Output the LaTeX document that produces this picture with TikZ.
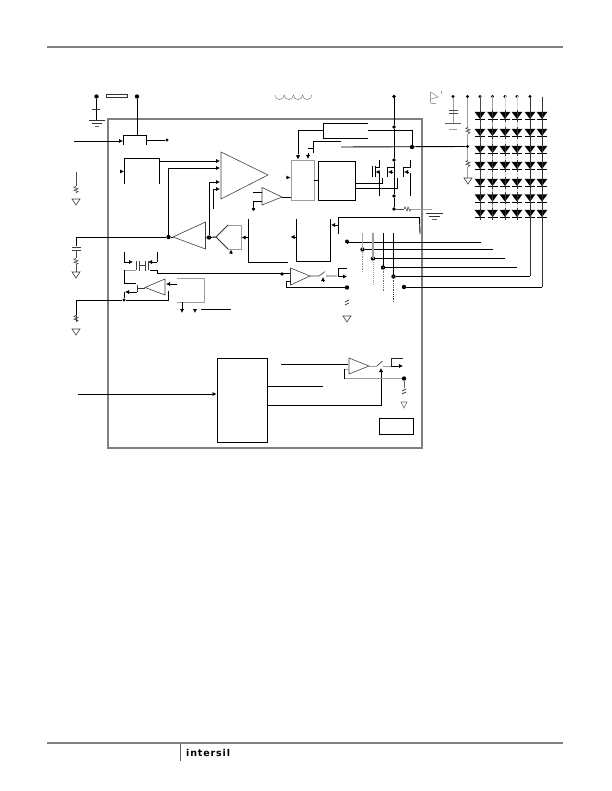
\documentclass[tikz,border=0pt]{standalone}
\usepackage{fontspec}
\setmainfont{DejaVu Sans}
\usetikzlibrary{arrows.meta}
\definecolor{framegray}{gray}{0.5}
\definecolor{softgray}{gray}{0.62}
\tikzset{
  wire/.style={line width=0.9pt,black},
  thin wire/.style={line width=0.5pt,black!70},
  soft/.style={line width=0.8pt,softgray},
  tip/.style={-{Latex[length=4pt,width=4.2pt]}},
  arr/.style={wire,tip},
  block/.style={draw=black,line width=0.9pt,inner sep=0pt,fill=none},
  amp/.style={line width=0.6pt,black!75},
  junction/.style={circle,fill=black,inner sep=0pt,minimum size=4.4pt},
  led/.style={fill=black,draw=none},
  colA/.style={line width=0.8pt,black!70},
  colB/.style={line width=0.8pt,softgray},
  colC/.style={line width=0.6pt,black!15}
}
\newcommand{\zigzag}[2]{\draw[line width=0.6pt,black!75] (#1,#2) -- ++(-2,1.6) -- ++(4,1.2) -- ++(-4,1.4) -- ++(4,1.2) -- ++(-2,1.4);}
\newcommand{\gndtri}[2]{\draw[line width=0.6pt,black!75] (#1-4,#2) -- (#1+4,#2) -- (#1,#2+6) -- cycle;}
\newcommand{\gndbars}[3]{\draw[line width=0.8pt,black!80] (#1-#3,#2) -- (#1+#3,#2) (#1-#3+3,#2+3) -- (#1+#3-3,#2+3);\draw[line width=0.7pt,black!60] (#1-#3+6,#2+6) -- (#1+#3-6,#2+6);}
\begin{document}
\begin{tikzpicture}[x=1pt,y=-1pt]
\useasboundingbox (0,0) rectangle (611,791);
\fill[white] (0,0) rectangle (611,791);
% page rules
\coordinate (hl) at (47,47); \coordinate (hr) at (563,47);
\coordinate (fl) at (47,743); \coordinate (fr) at (563,743);
\draw[line width=1.3pt,black!50] (hl) -- (hr);
\draw[line width=1.3pt,black!50] (fl) -- (fr);
\coordinate (ft) at (180,743); \coordinate (fb) at (180,761);
\draw[line width=0.6pt,black!60] (ft) -- (fb);
\node[anchor=west,inner sep=0pt,font=\bfseries\fontsize{9.5}{10}\selectfont\addfontfeature{LetterSpace=9}] (logo) at (186,753) {intersil};
% frame
\node[draw=framegray,line width=2.6pt,inner sep=0pt,minimum width=314pt,minimum height=329pt] (frame) at (265,283.5) {};

% top left
\node[junction] (vin) at (96.5,96.5) {};
\node[junction] (vb) at (137,96.5) {};
\draw[line width=0.8pt,black!80] (106,94) rectangle (127,97);
\coordinate (capa) at (96.5,109);
\draw[wire] (vin) -- (capa);
\draw[line width=0.8pt,black!75] (92,109.5) -- (100,109.5);
\gndbars{96.5}{120.5}{8}
\draw[wire] (96.5,110) -- (96.5,120);
% pass device
\coordinate (pt) at (137,135);
\draw[wire] (vb) -- (pt);
\draw[wire] (123.5,145) -- (123.5,135) -- (146.5,135) -- (146.5,145);
\coordinate (enin) at (74,141);
\coordinate (engate) at (123,141);
\draw[arr] (enin) -- (engate);
\node[junction,minimum size=3.4pt] (ldo) at (167,140) {};
\draw[wire] (146.5,140) -- (ldo);
% left resistor
\draw[thin wire] (76,172) -- (76,186);
\zigzag{76}{186}
\gndtri{76}{199}
% ref box
\draw[wire] (124.5,184) -- (124.5,158.5) -- (159.5,158.5) -- (159.5,184);
\draw[wire,tip] (120.5,171.5) -- (124,171.5);
% error amp
\coordinate (ea1) at (220,161); \coordinate (ea2) at (220,168);
\coordinate (ea3) at (220,182); \coordinate (ea4) at (220,189);
\draw[amp] (221,152) -- (221,199) -- (268,175) -- cycle;
\draw[arr] (159.5,161) -- (ea1);
\node[junction] (fbn) at (168.5,237) {};
\draw[arr] (fbn) -- (168.5,168) -- (ea2);
\node[junction] (vcn) at (209,237.5) {};
\draw[arr] (vcn) -- (209,182) -- (ea3);
\draw[wire] (213,209) -- (213,189);
\draw[arr] (213,189) -- (ea4);
% buffer triangle + left cap
\draw[amp] (173,237) -- (205.5,222) -- (205.5,249) -- cycle;
\coordinate (capc) at (76,246);
\draw[wire] (capc) -- (76,237) -- (fbn);
\draw[wire] (fbn) -- (173,237);
\draw[wire] (205.5,237.3) -- (vcn);
\draw[line width=0.8pt,black!75] (72,247) -- (81,247) (72,250) -- (81,250);
\draw[line width=0.6pt,black!70] (76,250) -- (76,258) (76,264.5) -- (76,272);
\zigzag{76}{258}
\gndtri{76}{272}
% selector
\draw[wire] (209,237.5) -- (216,237);
\draw[line width=0.8pt,black!80] (228,225) -- (216,237) -- (228,249);
\draw[soft] (228,225) -- (241,225) -- (241,249) -- (228,249);
\draw[arr] (248,237.5) -- (241.5,237.5);
\draw[wire,tip] (231,254) -- (231,249.5);
% pwm boxes
\draw[wire] (248.5,219) -- (248.5,262) -- (288,262);
\draw[wire] (296.5,219) -- (296.5,261) -- (330.5,261) -- (330.5,219);
\draw[wire,tip] (295.5,237) -- (290.5,237);
\coordinate (bstart) at (338.5,234);
\coordinate (bend) at (420,234);
\draw[wire] (bstart) -- (338.5,217.5) -- (419.5,217.5) -- (bend);
\draw[arr] (338.5,225) -- (331,225);
% comparator small
\draw[amp] (262,187.5) -- (262,205) -- (282,197) -- cycle;
\draw[wire] (253,192) -- (262,192);
\node[junction,minimum size=3.8pt] (sn) at (253.5,209) {};
\draw[wire] (sn) -- (253.5,201) -- (262,201);
% logic
\node[draw=softgray,line width=0.9pt,inner sep=0pt,minimum width=23pt,minimum height=40pt] (logicb) at (302.5,180.5) {};
\node[block,minimum width=37pt,minimum height=39pt] (driver) at (336.5,180.5) {};
\draw[wire] (282,197) -- (291,197);
\draw[wire] (logicb.east) -- (driver.west);
\draw[wire,tip] (286,177.5) -- (290.5,177.5);
\draw[wire,tip] (298,156) -- (298,159.5);
\draw[wire,tip] (308,153) -- (308,159);
% current sense
\node[junction,minimum size=3.6pt] (tpt) at (394,96.5) {};
\node[junction,minimum size=3.8pt] (t2) at (394,127) {};
\node[junction,minimum size=3.8pt] (t3) at (394,160) {};
\node[junction,minimum size=3.8pt] (t4) at (394,196) {};
\node[junction,minimum size=3.8pt] (t5) at (394,209) {};
\draw[wire] (tpt) -- (t2) -- (t3) -- (t4) -- (t5);
\draw[wire] (368,123.5) -- (323.5,123.5) -- (323.5,138.5) -- (368,138.5);
\node[junction,minimum size=3pt] (sb) at (298,156) {};
\draw[wire] (sb) -- (298,130.5) -- (323.5,130.5);
\node[junction] (sw) at (412,147) {};
\draw[wire] (368,130.5) -- (412,130.5) -- (sw);
\node[junction,minimum size=3.4pt] (mid) at (467.5,146.5) {};
\draw[wire] (341,147) -- (mid);
\draw[wire] (308,148) -- (313,148) -- (313,141.5) -- (341,141.5);
\draw[wire] (313,148) -- (313,153);
% MOSFETs
\draw[wire] (372.5,166) -- (372.5,177);
\draw[wire] (375.5,166) -- (375.5,177);
\draw[wire] (375.5,167.5) -- (379.5,167.5) -- (379.5,160);
\draw[wire] (379.5,173) -- (379.5,196);
\draw[wire,tip] (379,172) -- (375.5,172);
\draw[wire] (387.5,167) -- (387.5,177);
\draw[wire] (387.5,167) -- (394,167);
\draw[wire,tip] (393,172) -- (388,172);
\draw[wire] (403,167) -- (403,177);
\draw[wire] (403,167) -- (410,167) -- (410,160);
\draw[wire] (410,173) -- (410,196);
\draw[wire,tip] (409,172) -- (404,172);
\draw[wire] (355,183.5) -- (382.5,183.5) -- (382.5,178);
\draw[wire] (355,188.5) -- (397.5,188.5) -- (397.5,178);
% sense resistor and ground
\draw[line width=0.6pt,black!70] (t5) -- (404,209);
\draw[line width=0.6pt,black!75] (404,209) -- (405,207) -- (407,211) -- (408,207) -- (410,211) -- (411,209);
\draw[line width=0.6pt,softgray] (411,209) -- (432,209);
\gndbars{434.5}{213.5}{8.5}
% inductor
\draw[line width=0.4pt,black!60] (275,95) arc (180:0:4.6) arc (180:0:4.6) arc (180:0:4.6) arc (180:0:4.6);
% right: cap etc
\draw[line width=0.7pt,softgray] (430,92) -- (430,103);
\draw[line width=0.7pt,softgray] (431,92) -- (438,97) -- (431,99);
\draw[line width=0.6pt,softgray] (431,103) -- (436,103);
\draw[line width=0.5pt,softgray] (441,91) -- (441,94);
\node[junction,minimum size=3.2pt] (capt) at (453,96.5) {};
\draw[soft] (capt) -- (453,123);
\draw[line width=0.8pt,black!70] (449,110) -- (458,110);
\draw[line width=0.8pt,black!70] (449,113) -- (458,113);
\draw[line width=0.8pt,black!65] (445,123) -- (461,123);
\draw[line width=0.6pt,softgray] (449,129) -- (457,129);
\node[junction,minimum size=3.2pt] (rt) at (467.5,96.5) {};
\draw[soft] (rt) -- (467.5,127);
\zigzag{468}{127}
\draw[soft] (467.5,134) -- (mid) -- (467.5,160);
\zigzag{468}{160}
\draw[soft] (467.5,167) -- (467.5,178);
\gndtri{468}{178}
% LED matrix
\foreach \cx/\st in {480/colA,492.5/colB,505/colC,517/colC}{
  \node[junction,minimum size=3.2pt] at (\cx,96.5) {};
  \draw[\st] (\cx,96.5) -- (\cx,219);
}
\node[junction,minimum size=3.2pt] (c5t) at (530,96.5) {};
\draw[line width=0.8pt,black!80] (c5t) -- (530,276);
\coordinate (c6t) at (542,97);
\draw[line width=0.8pt,black!80] (c6t) -- (542,287);
\foreach \cx in {480,492.5,505,517,530,542}{
  \foreach \cy in {112,129,146,162,179,194.5,210}{
    \fill[led] (\cx-5.3,\cy) -- (\cx+5.3,\cy) -- (\cx,\cy+7) -- cycle;
    \draw[line width=0.9pt,black] (\cx-5,\cy+7.5) -- (\cx+5,\cy+7.5);
    \draw[line width=0.7pt,black!80] (\cx,\cy-2) -- (\cx,\cy+10);
  }
}
% channel bus
\node[junction,minimum size=4pt] (b0) at (347,241.5) {};
\node[junction] (b1) at (362.5,249.5) {};
\node[junction] (b2) at (373,258.5) {};
\node[junction] (b3) at (383,267.5) {};
\node[junction] (b4) at (393.5,276.5) {};
\node[junction] (b5) at (404,287) {};
\coordinate (l0) at (481,242.5);
\coordinate (l1) at (493,249.5);
\coordinate (l2) at (505,258.5);
\coordinate (l3) at (517,267.5);
\draw[wire] (b0) -- (347,242.5) -- (l0);
\draw[wire] (b1) -- (l1);
\draw[wire] (b2) -- (l2);
\draw[wire] (b3) -- (l3);
\draw[wire] (b4) -- (530,276.5);
\draw[wire] (b5) -- (542,287);
\draw[line width=0.6pt,black!35] (362.5,233) -- (362.5,249);
\draw[line width=0.7pt,black!45,densely dotted] (362.5,249) -- (362.5,272);
\draw[line width=1.2pt,softgray] (373,233) -- (373,258);
\draw[line width=1pt,softgray,densely dotted] (373,258) -- (373,285);
\draw[wire] (383,233) -- (383,267);
\draw[line width=0.8pt,black!55,densely dotted] (383,267) -- (383,292);
\draw[wire] (393.5,233) -- (393.5,276);
\draw[line width=0.8pt,black!75,densely dotted] (393.5,276) -- (393.5,303);
% comparator mid
\node[junction,minimum size=3.8pt] (cmp) at (282,274) {};
\draw[amp] (290.5,268) -- (290.5,285) -- (310,276) -- cycle;
\draw[wire] (157,273.5) -- (290,273.5);
\node[junction] (cf) at (347,287.5) {};
\draw[wire] (290.5,281) -- (286.5,281) -- (286.5,287.5) -- (cf);
\draw[line width=0.6pt,black!75] (310,276) -- (319,276) (319,276) -- (325,271.5) (326,276) -- (337,276);
\draw[wire,tip] (323,281.5) -- (323,277);
\draw[wire] (338,276) -- (338,268) -- (347,268);
\draw[wire,tip] (338,276.5) -- (347,276.5);
\draw[line width=0.7pt,black!75] (345,302) -- (349,300) (345,305) -- (349,303);
\gndtri{347}{316}
% bottom left MOS cluster
\draw[wire] (124,252) -- (124,262);
\draw[arr] (124,262) -- (133,262);
\draw[wire] (157,252) -- (157,262);
\draw[arr] (157,262) -- (148,262);
\draw[line width=0.7pt,black!75] (136.5,261) -- (136.5,270);
\draw[line width=0.7pt,black!75] (148.5,261) -- (148.5,270);
\draw[line width=0.7pt,black!75] (139.5,265.5) -- (145.5,265.5);
\draw[line width=0.7pt,black!75] (139.5,261) -- (139.5,271) (145.5,261) -- (145.5,271);
\draw[soft] (124,270) -- (136,270);
\draw[wire] (150,270) -- (157,270) -- (157,273.5);
\node[junction,minimum size=3.4pt] (dn) at (124,300) {};
\draw[wire] (124,270) -- (124,283) -- (136,283);
\draw[line width=0.7pt,black!80] (137,284.5) -- (137,292);
\draw[arr] (137,292) -- (125,292);
\draw[wire] (dn) -- (124,292);
\draw[amp] (145,287.5) -- (165,279) -- (165,295) -- cycle;
\draw[line width=0.7pt,black!80] (137,288) -- (145,288);
\draw[arr] (177,284) -- (166,284);
\coordinate (r3t) at (76,315);
\draw[wire] (r3t) -- (76,300) -- (dn);
\draw[wire] (dn) -- (168,300) -- (168,291);
\draw[line width=0.6pt,black!70] (76,315) -- (76,322);
\zigzag{76}{315}
\gndtri{76}{329}
\draw[line width=1pt,softgray] (177,278) -- (204.5,278) -- (204.5,302) -- (177,302);
\draw[wire,tip] (182,302) -- (182,313);
\draw[wire,tip] (195,309) -- (195,313);
\coordinate (pa) at (201,309); \coordinate (pb) at (231,309);
\draw[wire] (pa) -- (pb);
% bottom block
\node[block,minimum width=50pt,minimum height=84pt] (dig) at (242,400) {};
\coordinate (din) at (78,394);
\draw[arr] (din) -- (dig.west |- din);
\coordinate (o0) at (281,364.5);
\draw[wire] (o0) -- (348,364.5);
\coordinate (o1) at (323,386.5);
\draw[wire] (dig.east |- o1) -- (o1);
\draw[amp] (349,358) -- (349,374) -- (369,366) -- cycle;
\coordinate (o2) at (267,405.5);
\draw[wire,tip] (o2) -- (381,405.5) -- (381,368);
\node[junction] (of) at (404,378.5) {};
\draw[soft] (349,369) -- (344.5,369);
\draw[wire] (344.5,369) -- (344.5,378.5);
\draw[soft] (344.5,378.5) -- (of);
\draw[line width=0.6pt,softgray] (369,366) -- (377,366) (383,366) -- (391,366);
\draw[line width=0.7pt,black!70] (377,366) -- (382.5,361);
\draw[line width=0.9pt,black!85] (391,366) -- (391,358) -- (403,358);
\draw[wire,tip] (391,366) -- (403,366);
\draw[line width=0.7pt,black!60] (of) -- (404,388);
\draw[line width=0.7pt,black!80] (402,391) -- (406,389) (402,394) -- (406,392);
\draw[line width=0.6pt,black!60] (401,402) -- (407,402) -- (404,408) -- cycle;
\node[block,minimum width=34pt,minimum height=16pt] (tbox) at (396,426) {};
\end{tikzpicture}
\end{document}
